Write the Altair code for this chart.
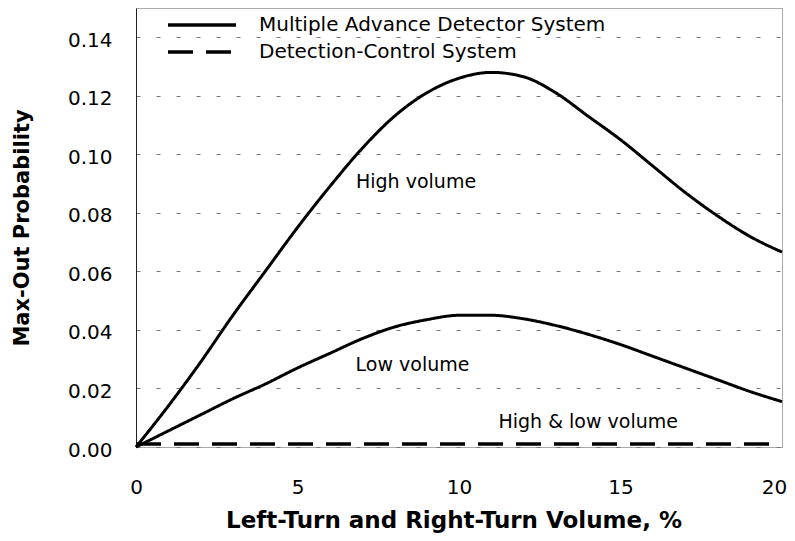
import altair as alt
import pandas as pd

MADS = "Multiple Advance Detector System"
DCS = "Detection-Control System"

volume_pct = [0, 1, 2, 3, 4, 5, 6, 7, 8, 9, 10, 11, 12, 13, 14, 15, 16, 17, 18, 19, 20]
mads_high = [0, 0.014, 0.029, 0.045, 0.060, 0.075, 0.089, 0.102, 0.113, 0.121, 0.126,
             0.128, 0.1265, 0.121, 0.113, 0.105, 0.096, 0.087, 0.079, 0.072, 0.0666]
mads_low = [0, 0.0055, 0.011, 0.0165, 0.0215, 0.027, 0.032, 0.037, 0.041, 0.0435, 0.045,
            0.045, 0.0438, 0.0415, 0.0385, 0.035, 0.031, 0.027, 0.023, 0.019, 0.0155]
dcs_high = [0.001, 0.001, 0.001, 0.001, 0.001, 0.001, 0.001, 0.001, 0.001, 0.001, 0.001,
            0.001, 0.001, 0.001, 0.001, 0.001, 0.001, 0.001, 0.001, 0.001, 0.001]
dcs_low = [0.001, 0.001, 0.001, 0.001, 0.001, 0.001, 0.001, 0.001, 0.001, 0.001, 0.001,
           0.001, 0.001, 0.001, 0.001, 0.001, 0.001, 0.001, 0.001, 0.001, 0.001]

y_ticks = [0.00, 0.02, 0.04, 0.06, 0.08, 0.10, 0.12, 0.14]
x_ticks = [0, 5, 10, 15, 20]

note_text = ["High volume", "Low volume", "High & low volume"]
note_x = [8.67, 8.56, 14.0]
note_y = [0.0907, 0.028, 0.0084]

rows = []
for system, volume, values in [(MADS, "high", mads_high), (MADS, "low", mads_low),
                               (DCS, "high", dcs_high), (DCS, "low", dcs_low)]:
    for xv, yv in zip(volume_pct, values):
        rows.append({"system": system, "series": system + " " + volume, "x": xv, "y": yv})
df = pd.DataFrame(rows)
notes = pd.DataFrame({"text": note_text, "x": note_x, "y": note_y})

FONT = "DejaVu Sans"

x_enc = alt.X(
    "x:Q",
    scale=alt.Scale(domain=[0, 20], nice=False, zero=False),
    axis=alt.Axis(
        values=x_ticks, title="Left-Turn and Right-Turn Volume, %", grid=False, ticks=False,
        domain=False, labelFlush=False, labelFont=FONT, labelFontSize=20, labelColor="black",
        labelBaseline="alphabetic", labelPadding=46,
        labelOffset={"condition": {"test": "datum.value == 20", "value": -8}, "value": 0},
        titleFont=FONT, titleFontSize=23, titleFontWeight="bold", titleColor="black",
        titleX=317.5, titleY=80, titleAlign="center", titleBaseline="alphabetic",
    ),
)
y_enc = alt.Y(
    "y:Q",
    scale=alt.Scale(domain=[0, 0.15], nice=False),
    axis=alt.Axis(
        values=y_ticks, format=".2f", title="Max-Out Probability", ticks=False,
        domain=True, domainColor="#222222", domainWidth=1,
        grid=True, gridColor="#777777", gridDash=[4, 16], gridWidth=1,
        labelFont=FONT, labelFontSize=20, labelColor="black", labelPadding=24,
        labelBaseline="alphabetic", labelOffset=9,
        titleFont=FONT, titleFontSize=21, titleFontWeight="bold", titleColor="black",
        titleAngle=270, titleX=-114, titleY=219.5, titleAlign="center", titleBaseline="middle",
    ),
)

lines = alt.Chart(df).mark_line(interpolate="monotone", strokeWidth=3, color="black").encode(
    x=x_enc,
    y=y_enc,
    strokeDash=alt.StrokeDash(
        "system:N",
        scale=alt.Scale(domain=[MADS, DCS], range=[[1, 0], [25, 13]]),
        legend=alt.Legend(
            title=None, orient="none", legendX=54, legendY=5, padding=0,
            symbolType="M-3.4,0H3.4", symbolSize=400, symbolStrokeWidth=3.5,
            symbolStrokeColor="black", symbolFillColor="transparent",
            labelFont=FONT, labelFontSize=20,
            labelColor="black", labelOffset=45, rowPadding=5, labelLimit=0,
        ),
    ),
    detail="series:N",
)

labels = alt.Chart(notes).mark_text(font=FONT, fontSize=19, color="black", align="center",
                                    baseline="middle").encode(
    x="x:Q", y="y:Q", text="text:N"
)

chart = alt.layer(lines, labels).properties(
    width=646, height=439,
    autosize=alt.AutoSizeParams(type="none"),
    padding={"left": 128, "top": 0, "right": 5, "bottom": 86},
    background="white",
).configure_view(stroke="#555555", strokeDash=[1, 1], strokeWidth=1)

chart.save("out.html", embed_options={"renderer": "svg", "actions": False})
